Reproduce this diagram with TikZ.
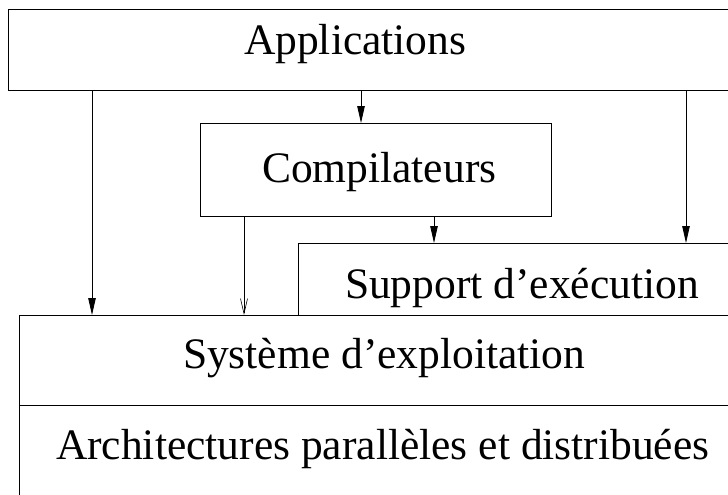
\documentclass[tikz,border=0pt]{standalone}
\usepackage{fontspec}
\setmainfont{Liberation Serif}
\usetikzlibrary{arrows.meta}
\begin{document}
\begin{tikzpicture}[x=1pt,y=-1pt,
  box/.style={draw, line width=0.9pt, inner sep=0pt, outer sep=0pt},
  lbl/.style={anchor=base west, inner sep=0pt, outer sep=0pt, font=\fontsize{43.5}{50}\selectfont},
  fa/.style={line width=0.8pt, -{Triangle[length=17pt,width=7.5pt]}},
  oa/.style={line width=0.6pt, -{Straight Barb[length=15pt,width=7pt]}}]
\useasboundingbox (0,0) rectangle (728,495);
\clip (0,0) rectangle (728,495);
\fill[white] (0,0) rectangle (728,495);
% boxes
\node[box, minimum width=752pt, minimum height=81pt] (app) at (384,49.5) {};
\node[box, minimum width=351pt, minimum height=93pt] (comp) at (375.5,169.5) {};
\node[box, minimum width=462pt, minimum height=72pt] (sup) at (529,279) {};
\node[box, minimum width=741pt, minimum height=90pt] (sys) at (389.5,360) {};
\node[box, minimum width=741pt, minimum height=125pt] (arch) at (389.5,467.5) {};
% texts
\node[lbl] (tapp) at (244,55) {Applications};
\node[lbl] (tcomp) at (262,182) {Compilateurs};
\node[lbl] (tsup) at (345,298) {Support d’exécution};
\node[lbl] (tsys) at (183,368) {Système d’exploitation};
\node[lbl] (tarch) at (56,459) {Architectures parallèles et distribuées};
% connector columns
\coordinate (xa) at (92,0);
\coordinate (xb) at (361,0);
\coordinate (xc) at (686,0);
\coordinate (xd) at (434,0);
\coordinate (xe) at (244,0);
\draw[fa] (app.south -| xa) -- (sys.north -| xa);
\draw[fa] (app.south -| xb) -- (comp.north -| xb);
\draw[fa] (app.south -| xc) -- (sup.north -| xc);
\draw[fa] (comp.south -| xd) -- (sup.north -| xd);
\draw[oa] (comp.south -| xe) -- (sys.north -| xe);
\end{tikzpicture}
\end{document}
